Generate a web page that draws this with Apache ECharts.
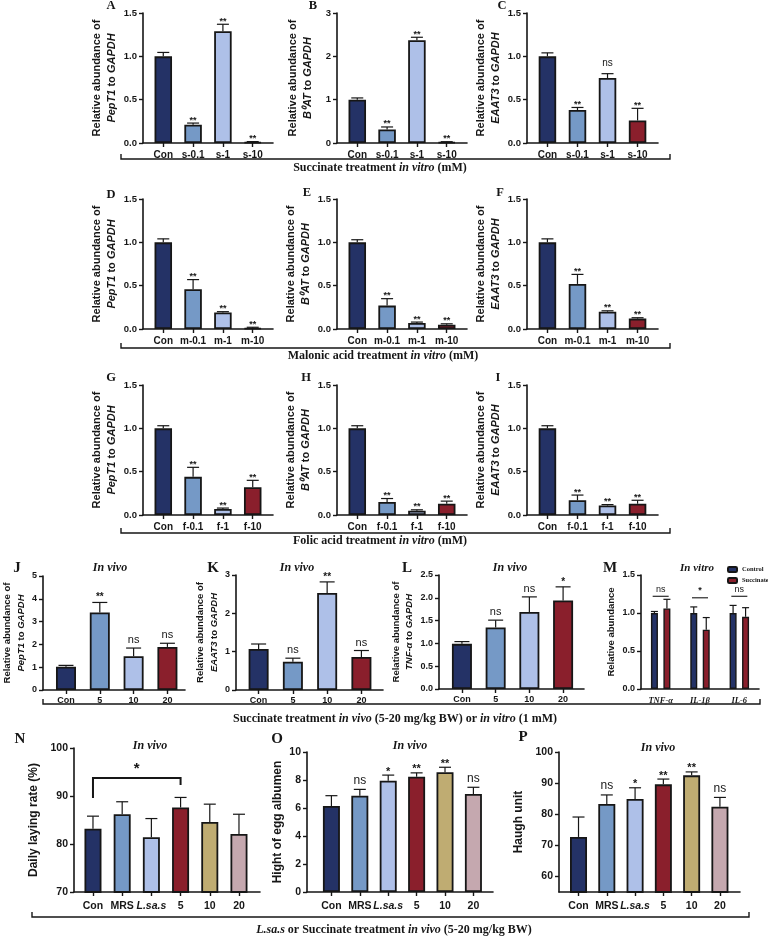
<!DOCTYPE html>
<html>
<head>
<meta charset="utf-8">
<script src="https://cdn.jsdelivr.net/npm/echarts@6/dist/echarts.min.js"></script>
<style>
  html, body { margin: 0; padding: 0; background: #fff; }
  #main { width: 768px; height: 938px; }
</style>
</head>
<body>
<div id="main"></div>
<script>
// ---- categories ----
const catSuc = ['Con', 's-0.1', 's-1', 's-10'];
const catMal = ['Con', 'm-0.1', 'm-1', 'm-10'];
const catFol = ['Con', 'f-0.1', 'f-1', 'f-10'];
const catVivo = ['Con', '5', '10', '20'];
const catCyto = ['TNF-α', 'IL-1β', 'IL-6'];
const catHen = ['Con', 'MRS', 'L.sa.s', '5', '10', '20'];

// ---- A-C: succinate in vitro ----
const sucPepT1 = [1.00, 0.21, 1.29, 0.01];
const sucPepT1Err = [0.045, 0.02, 0.08, 0.006];
const sucPepT1Sig = ['', '**', '**', '**'];
const sucB0AT = [1.00, 0.31, 2.37, 0.02];
const sucB0ATErr = [0.04, 0.06, 0.07, 0.01];
const sucB0ATSig = ['', '**', '**', '**'];
const sucEAAT3 = [1.00, 0.38, 0.75, 0.26];
const sucEAAT3Err = [0.04, 0.03, 0.05, 0.14];
const sucEAAT3Sig = ['', '**', 'ns', '**'];

// ---- D-F: malonic acid in vitro ----
const malPepT1 = [1.00, 0.46, 0.19, 0.01];
const malPepT1Err = [0.04, 0.11, 0.01, 0.01];
const malB0AT = [1.00, 0.27, 0.07, 0.05];
const malB0ATErr = [0.03, 0.08, 0.01, 0.01];
const malEAAT3 = [1.00, 0.52, 0.20, 0.12];
const malEAAT3Err = [0.04, 0.11, 0.01, 0.01];
const malSig = ['', '**', '**', '**'];

// ---- G-I: folic acid in vitro ----
const folPepT1 = [1.00, 0.44, 0.07, 0.32];
const folPepT1Err = [0.03, 0.11, 0.01, 0.08];
const folB0AT = [1.00, 0.15, 0.05, 0.13];
const folB0ATErr = [0.03, 0.04, 0.01, 0.03];
const folEAAT3 = [1.00, 0.17, 0.11, 0.13];
const folEAAT3Err = [0.03, 0.06, 0.01, 0.04];
const folSig = ['', '**', '**', '**'];

// ---- J-L: succinate in vivo ----
const vivoPepT1 = [1.02, 3.40, 1.48, 1.89];
const vivoPepT1Err = [0.06, 0.44, 0.36, 0.16];
const vivoPepT1Sig = ['', '**', 'ns', 'ns'];
const vivoEAAT3 = [1.07, 0.74, 2.53, 0.86];
const vivoEAAT3Err = [0.13, 0.09, 0.29, 0.17];
const vivoEAAT3Sig = ['', 'ns', '**', 'ns'];
const vivoTNF = [0.99, 1.35, 1.69, 1.94];
const vivoTNFErr = [0.05, 0.16, 0.33, 0.30];
const vivoTNFSig = ['', 'ns', 'ns', '*'];

// ---- M: cytokines in vitro ----
const cytoControl = [1.00, 1.00, 1.00];
const cytoControlErr = [0.02, 0.08, 0.10];
const cytoSuccinate = [1.06, 0.78, 0.95];
const cytoSuccinateErr = [0.12, 0.16, 0.12];
const cytoSig = ['ns', '*', 'ns'];
const cytoSigLevel = [1.22, 1.20, 1.22];

// ---- N-P: hens ----
const henLaying = [83.2, 86.2, 81.4, 87.6, 84.6, 82.1];
const henLayingErr = [2.6, 2.6, 3.9, 2.1, 3.7, 4.1];
const henLayingSig = ['', '', '', '', '', ''];
const henLayingPair = [0, 3, 93.75, 89.6, 92.3]; // from, to, bracket top, leg ends
const henAlbumen = [6.14, 6.88, 7.95, 8.23, 8.55, 7.00];
const henAlbumenErr = [0.74, 0.45, 0.40, 0.28, 0.36, 0.48];
const henHaugh = [72.7, 83.3, 84.9, 89.6, 92.5, 82.4];
const henHaughErr = [6.4, 2.9, 3.6, 1.7, 1.1, 3.0];
const henSig = ['', 'ns', '*', '**', '**', 'ns'];

const INK = '#161616';
const SANS = 'Liberation Sans, Arial, sans-serif';
const SERIF = 'Liberation Serif, Times New Roman, serif';
const PAL = ['#243266', '#7599c6', '#aec0e8', '#8a1f2c', '#bfac72', '#c5a8af'];

const grid = [], xAxis = [], yAxis = [], series = [];

function errBars(i, vals, errs, sig, o) {
  const off = o.offset || 0;
  const cap = o.cap;
  return {
    type: 'custom', xAxisIndex: i, yAxisIndex: i, z: 4, silent: true,
    data: vals.map((v, k) => [k, v, errs[k]]),
    renderItem: function (params, api) {
      const b = api.coord([api.value(0), api.value(1)]);
      const t = api.coord([api.value(0), api.value(1) + api.value(2)]);
      const x = b[0] + off;
      const kids = [
        { type: 'line', shape: { x1: x, y1: b[1], x2: x, y2: t[1] }, style: { stroke: INK, lineWidth: 1.2 } },
        { type: 'line', shape: { x1: x - cap, y1: t[1], x2: x + cap, y2: t[1] }, style: { stroke: INK, lineWidth: 1.2 } }
      ];
      const s = sig ? sig[params.dataIndex] : '';
      if (s) {
        const ns = s === 'ns';
        kids.push({
          type: 'text', x: x, y: t[1] - (ns ? o.nsGap : o.starGap),
          style: {
            text: s, align: 'center', verticalAlign: 'middle', fill: INK,
            fontFamily: SANS, fontWeight: ns ? 'normal' : 'bold', fontSize: ns ? o.nsSize : o.starSize
          }
        });
      }
      return { type: 'group', children: kids };
    }
  };
}

function yAxisFor(i, p) {
  return {
    type: 'value', gridIndex: i, min: p.yMin, max: p.yMax, interval: p.yInt,
    splitLine: { show: false },
    axisLine: { show: true, onZero: false, lineStyle: { color: INK, width: 1.6 } },
    axisTick: { show: true, length: 4, lineStyle: { color: INK, width: 1.4 }, customValues: p.yTicks },
    axisLabel: { customValues: p.yTicks, formatter: p.yFmt, color: INK, fontFamily: SANS, fontWeight: 'bold', fontSize: p.yfs, margin: 6 },
    name: p.name, nameLocation: 'middle', nameGap: p.nameGap,
    nameTextStyle: {
      color: INK, fontFamily: SANS, fontWeight: 'bold', fontSize: p.nameSize, lineHeight: p.nameSize + 4,
      rich: { i: { fontStyle: 'italic', fontWeight: 'bold', fontFamily: SANS, fontSize: p.nameSize, color: INK, lineHeight: p.nameSize + 4 } }
    }
  };
}

function panel(p) {
  const i = grid.length;
  const idx = p.cats.map((c, k) => k);
  grid.push({ left: p.left, top: p.top, width: p.width, height: p.height });
  xAxis.push({
    type: 'value', gridIndex: i, min: -p.padL, max: p.cats.length - 1 + p.padR,
    splitLine: { show: false },
    axisLine: { onZero: false, lineStyle: { color: INK, width: 1.6 } },
    axisTick: { customValues: idx, length: 4, lineStyle: { color: INK, width: 1.4 } },
    axisLabel: {
      customValues: idx, color: INK, fontFamily: SANS, fontWeight: 'bold', fontSize: p.xfs, margin: p.xMargin,
      formatter: v => (p.cats[v] === 'L.sa.s' ? '{i|L.sa.s}' : p.cats[v]),
      rich: { i: { fontStyle: 'italic', fontWeight: 'bold', fontFamily: SANS, fontSize: p.xfs, color: INK } }
    }
  });
  yAxis.push(yAxisFor(i, p));
  series.push({
    type: 'bar', xAxisIndex: i, yAxisIndex: i, barWidth: p.barWidth, silent: true,
    itemStyle: { borderColor: INK, borderWidth: 1.8 },
    data: p.vals.map((v, k) => ({ value: [k, v], itemStyle: { color: PAL[k] } }))
  });
  series.push(errBars(i, p.vals, p.errs, p.sig, p.sigOpt));
  return i;
}

const fmt1 = v => v.toFixed(1);
const fmt0 = v => String(v);
const nameOf = g => 'Relative abundance of\n{i|' + g + '} to {i|GAPDH}';

// rows 1-3
const sig13 = { cap: 6, starGap: 3, nsGap: 10, starSize: 9, nsSize: 10 };
const r13 = { padL: 0.68, padR: 0.68, height: 130, barWidth: 17.5, xfs: 10, yfs: 9.5, xMargin: 7, nameSize: 11, nameGap: 22, yMin: 0, sigOpt: sig13 };
const rowTops = [13, 199, 385];
const colLefts = [143, 337, 527];
const rows13 = [
  [catSuc, [sucPepT1, sucPepT1Err, sucPepT1Sig, 'PepT1'], [sucB0AT, sucB0ATErr, sucB0ATSig, 'B⁰AT'], [sucEAAT3, sucEAAT3Err, sucEAAT3Sig, 'EAAT3']],
  [catMal, [malPepT1, malPepT1Err, malSig, 'PepT1'], [malB0AT, malB0ATErr, malSig, 'B⁰AT'], [malEAAT3, malEAAT3Err, malSig, 'EAAT3']],
  [catFol, [folPepT1, folPepT1Err, folSig, 'PepT1'], [folB0AT, folB0ATErr, folSig, 'B⁰AT'], [folEAAT3, folEAAT3Err, folSig, 'EAAT3']]
];
rows13.forEach((row, r) => {
  for (let c = 0; c < 3; c++) {
    const d = row[c + 1];
    const big = r === 0 && c === 1;
    panel(Object.assign({}, r13, {
      cats: row[0], vals: d[0], errs: d[1], sig: d[2], name: nameOf(d[3]),
      left: colLefts[c], top: rowTops[r], width: c === 2 ? 131 : 130,
      yMax: big ? 3 : 1.5, yInt: big ? 1 : 0.5, yFmt: big ? fmt0 : fmt1
    }));
  }
});

// row 4
const sig4 = { cap: 7.5, starGap: 5, nsGap: 8, starSize: 10, nsSize: 11 };
const r4 = { height: 114, barWidth: 20, xfs: 9, yfs: 9, xMargin: 6, nameSize: 9.5, yMin: 0, sigOpt: sig4 };
panel(Object.assign({}, r4, { cats: catVivo, vals: vivoPepT1, errs: vivoPepT1Err, sig: vivoPepT1Sig, name: nameOf('PepT1'),
  left: 43, top: 576, width: 142, padL: 0.68, padR: 0.52, yMax: 5, yInt: 1, yFmt: fmt0, nameGap: 14 }));
panel(Object.assign({}, r4, { cats: catVivo, vals: vivoEAAT3, errs: vivoEAAT3Err, sig: vivoEAAT3Sig, name: nameOf('EAAT3'),
  left: 236, top: 575, width: 147, height: 115, padL: 0.66, padR: 0.63, yMax: 3, yInt: 1, yFmt: fmt0, nameGap: 14 }));
panel(Object.assign({}, r4, { cats: catVivo, vals: vivoTNF, errs: vivoTNFErr, sig: vivoTNFSig, name: nameOf('TNF-α'),
  left: 439, top: 575, width: 145, padL: 0.68, padR: 0.62, yMax: 2.5, yInt: 0.5, yFmt: fmt1, nameGap: 20 }));

// M: grouped cytokine bars
const mi = grid.length;
grid.push({ left: 641, top: 575, width: 118, height: 114 });
xAxis.push({
  type: 'category', gridIndex: mi, data: catCyto,
  axisLine: { lineStyle: { color: INK, width: 1.6 } },
  axisTick: { show: false },
  axisLabel: { color: INK, margin: 7, interval: 0, hideOverlap: false, formatter: v => '{i|' + v + '}',
    rich: { i: { fontStyle: 'italic', fontWeight: 'bold', fontFamily: SERIF, fontSize: 8.5, color: INK } } }
});
yAxis.push(yAxisFor(mi, { yMin: 0, yMax: 1.5, yInt: 0.5, yFmt: fmt1, yfs: 9, name: 'Relative abundance', nameGap: 22, nameSize: 9.5 }));
const sigM = { cap: 3.5, starGap: 5, nsGap: 8, starSize: 9, nsSize: 9 };
series.push({ name: 'Control', type: 'bar', xAxisIndex: mi, yAxisIndex: mi, barWidth: 7, barGap: '78%', silent: true,
  itemStyle: { color: PAL[0], borderColor: INK, borderWidth: 1.4 }, data: cytoControl });
series.push({ name: 'Succinate', type: 'bar', xAxisIndex: mi, yAxisIndex: mi, barWidth: 7, barGap: '78%', silent: true,
  itemStyle: { color: PAL[3], borderColor: INK, borderWidth: 1.4 }, data: cytoSuccinate });
series.push(errBars(mi, cytoControl, cytoControlErr, null, Object.assign({ offset: -6.25 }, sigM)));
series.push(errBars(mi, cytoSuccinate, cytoSuccinateErr, null, Object.assign({ offset: 6.25 }, sigM)));
series.push({
  type: 'custom', xAxisIndex: mi, yAxisIndex: mi, silent: true, z: 4,
  data: cytoSigLevel.map((v, k) => [k, v]),
  renderItem: function (params, api) {
    const c = api.coord([api.value(0), api.value(1)]);
    return { type: 'group', children: [
      { type: 'line', shape: { x1: c[0] - 8, y1: c[1], x2: c[0] + 8, y2: c[1] }, style: { stroke: INK, lineWidth: 1.1 } },
      { type: 'text', x: c[0], y: c[1] - 7, style: { text: cytoSig[params.dataIndex], align: 'center', verticalAlign: 'middle',
        fill: INK, fontFamily: SANS, fontSize: 9, fontWeight: cytoSig[params.dataIndex] === 'ns' ? 'normal' : 'bold' } }
    ] };
  }
});

// row 5
const sig5 = { cap: 6, starGap: 3.5, nsGap: 9, starSize: 11, nsSize: 12 };
const r5 = { height: 140, barWidth: 17, xfs: 10.5, yfs: 10.5, xMargin: 9, nameSize: 12, sigOpt: sig5, cats: catHen };
const ni = panel(Object.assign({}, r5, { vals: henLaying, errs: henLayingErr, sig: henLayingSig, name: 'Daily laying rate (%)',
  left: 74, top: 748, width: 186, height: 144, padL: 0.65, padR: 0.72, yMin: 70, yMax: 100, yInt: 10, yFmt: fmt0, nameGap: 32 }));
panel(Object.assign({}, r5, { vals: henAlbumen, errs: henAlbumenErr, sig: henSig, name: 'Hight of egg albumen',
  left: 307, top: 752, width: 186, padL: 0.86, padR: 0.69, yMin: 0, yMax: 10, yInt: 2, yFmt: fmt0, nameGap: 21 }));
panel(Object.assign({}, r5, { vals: henHaugh, errs: henHaughErr, sig: henSig, name: 'Haugh unit',
  left: 559, top: 752, width: 181, padL: 0.69, padR: 0.71, yMin: 55, yMax: 100, yTicks: [60, 70, 80, 90, 100], yFmt: fmt0, nameGap: 32 }));

// N bracket Con vs 5
series.push({
  type: 'custom', xAxisIndex: ni, yAxisIndex: ni, silent: true, z: 4,
  data: [henLayingPair],
  renderItem: function (params, api) {
    const a = api.coord([api.value(0), api.value(2)]);
    const b = api.coord([api.value(1), api.value(2)]);
    const la = api.coord([api.value(0), api.value(3)]);
    const lb = api.coord([api.value(1), api.value(4)]);
    return { type: 'group', children: [
      { type: 'polyline', shape: { points: [[a[0], la[1]], a, b, [b[0], lb[1]]] }, style: { stroke: INK, lineWidth: 2, fill: null } },
      { type: 'text', x: (a[0] + b[0]) / 2, y: a[1] - 9, style: { text: '*', align: 'center', verticalAlign: 'middle',
        fill: INK, fontFamily: SANS, fontWeight: 'bold', fontSize: 15 } }
    ] };
  }
});

// ---- annotations ----
const graphic = [];
function label(x, y, text, size, italic, font) {
  graphic.push({ type: 'text', x: x, y: y, silent: true, style: {
    text: text, align: 'center', verticalAlign: 'middle', fill: INK,
    fontFamily: font || SERIF, fontWeight: 'bold', fontStyle: italic ? 'italic' : 'normal', fontSize: size,
    rich: { i: { fontFamily: font || SERIF, fontWeight: 'bold', fontStyle: 'italic', fontSize: size, fill: INK } }
  } });
}
function bracket(x1, x2, y) {
  graphic.push({ type: 'polyline', silent: true, shape: { points: [[x1, y - 5], [x1, y], [x2, y], [x2, y - 5]] },
    style: { stroke: INK, lineWidth: 1.4, fill: null } });
}
[['A', 111, 6], ['B', 313, 6], ['C', 502, 6], ['D', 111, 195], ['E', 307, 193], ['F', 500, 193],
 ['G', 111, 378], ['H', 306, 378], ['I', 498, 378]].forEach(l => label(l[1], l[2], l[0], 12.5));
[['J', 17, 568], ['K', 213, 568], ['L', 407, 568], ['M', 610, 568], ['N', 20, 739], ['O', 277, 739], ['P', 523, 737]]
  .forEach(l => label(l[1], l[2], l[0], 15));
[[110, 568], [297, 568], [510, 568], [150, 746], [410, 746], [658, 748]].forEach(p => label(p[0], p[1], 'In vivo', 12, true));
label(697, 568, 'In vitro', 11, true);

bracket(121, 670, 159); label(380, 168, 'Succinate treatment {i|in vitro} (mM)', 12);
bracket(121, 670, 348); label(383, 356, 'Malonic acid treatment {i|in vitro} (mM)', 12);
bracket(121, 670, 533); label(380, 541, 'Folic acid treatment {i|in vitro} (mM)', 12);
bracket(43, 760, 704); label(395, 719, 'Succinate treatment {i|in vivo} (5-20 mg/kg BW) or {i|in vitro} (1 mM)', 12);
bracket(32, 749, 917); label(394, 930, '{i|L.sa.s} or Succinate treatment {i|in vivo} (5-20 mg/kg BW)', 12);

const chart = echarts.init(document.getElementById('main'));
chart.setOption({
  animation: false,
  backgroundColor: '#fff',
  legend: {
    data: ['Control', 'Succinate'], orient: 'vertical', left: 722, top: 561,
    itemWidth: 9, itemHeight: 5, itemGap: 4, selectedMode: false,
    textStyle: { fontFamily: SERIF, fontWeight: 'bold', fontSize: 6.5, color: INK }
  },
  grid: grid, xAxis: xAxis, yAxis: yAxis, series: series, graphic: graphic
});
</script>
</body>
</html>
